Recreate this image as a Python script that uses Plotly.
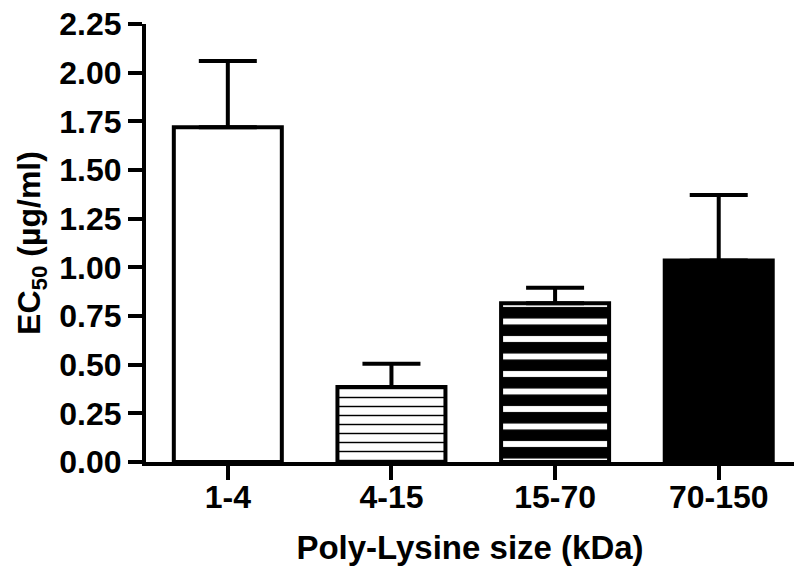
import plotly.graph_objects as go

categories = ["1-4", "4-15", "15-70", "70-150"]
ec50_mean = [1.72, 0.385, 0.815, 1.035]
ec50_err = [0.34, 0.12, 0.08, 0.337]
y_ticks = [0, 0.25, 0.5, 0.75, 1.0, 1.25, 1.5, 1.75, 2.0, 2.25]

bar_colors = ["white", "white", "white", "black"]
pattern_shapes = ["", "-", "-", ""]
pattern_sizes = [8, 9, 17.5, 8]
pattern_solidity = [0.2, 0.16, 0.66, 0.2]

FONT = "Liberation Sans, Arial, Helvetica, sans-serif"

fig = go.Figure()
for i, cat in enumerate(categories):
    marker = dict(color=bar_colors[i], line=dict(color="black", width=4))
    if pattern_shapes[i]:
        marker["pattern"] = dict(
            shape=pattern_shapes[i],
            size=pattern_sizes[i],
            solidity=pattern_solidity[i],
            fgcolor="black",
            bgcolor="white",
            fillmode="replace",
        )
    fig.add_trace(go.Bar(
        x=[i],
        y=[ec50_mean[i]],
        width=0.66,
        marker=marker,
        error_y=dict(
            type="data",
            symmetric=False,
            array=[ec50_err[i]],
            arrayminus=[0],
            color="black",
            thickness=4,
            width=29,
        ),
        name=cat,
        showlegend=False,
    ))

fig.update_layout(
    width=794,
    height=572,
    margin=dict(l=146, r=0, t=24, b=110),
    paper_bgcolor="white",
    plot_bgcolor="white",
    font=dict(family=FONT, color="black"),
    barmode="overlay",
)

fig.update_xaxes(
    range=[-0.5, 3.46],
    tickmode="array",
    tickvals=list(range(len(categories))),
    ticktext=categories,
    showline=True,
    linecolor="black",
    linewidth=4,
    ticks="outside",
    ticklen=14,
    tickwidth=4,
    tickcolor="black",
    showgrid=False,
    zeroline=False,
    ticklabelstandoff=-10,
    tickfont=dict(family=FONT, size=32, weight="bold", color="black"),
    title=dict(text="Poly-Lysine size (kDa)",
               font=dict(family=FONT, size=33, weight="bold", color="black"),
               standoff=22),
)

fig.update_yaxes(
    range=[0, 2.25],
    tickmode="array",
    tickvals=y_ticks,
    ticktext=[f"{v:.2f}" for v in y_ticks],
    showline=True,
    linecolor="black",
    linewidth=4,
    ticks="outside",
    ticklen=14,
    tickwidth=4,
    tickcolor="black",
    showgrid=False,
    zeroline=False,
    tickfont=dict(family=FONT, size=32, weight="bold", color="black"),
    title=dict(text="EC<sub>50</sub> (µg/ml)",
               font=dict(family=FONT, size=32, weight="bold", color="black"),
               standoff=10),
)

fig.write_html("out.html")
